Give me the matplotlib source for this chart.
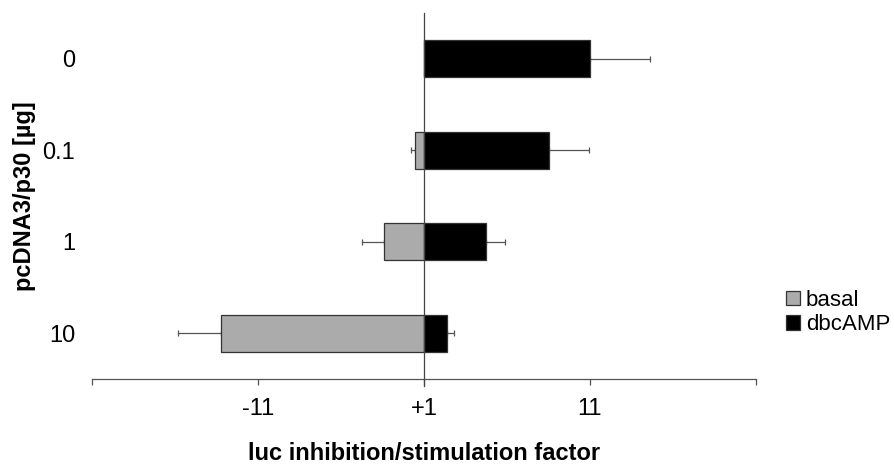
import matplotlib
matplotlib.use("Agg")
import matplotlib.pyplot as plt
import numpy as np

plt.rcParams['font.family'] = ['Liberation Sans', 'DejaVu Sans']

# Doses of pcDNA3/p30 (top to bottom)
doses = ["0", "0.1", "1", "10"]

# Inhibition (negative) / stimulation (positive) factors, plotted on a shifted scale
basal = [0.0, -0.52, -2.41, -12.25]
basal_err = [0.0, 0.28, 1.3, 2.55]
dbcamp = [10.0, 7.53, 3.72, 1.41]
dbcamp_err = [3.6, 2.43, 1.18, 0.4]

xtick_pos = [-20, -10, 0, 10, 20]
xtick_labels = ["", "-11", "+1", "11", ""]

fig = plt.figure(figsize=(8.94, 4.66), dpi=100)
ax = fig.add_axes([0.1029, 0.1867, 0.7427, 0.7854])

y = np.arange(len(doses))
h = 0.4
edge = "#333333"

ax.barh(y, basal, height=h, color="#ababab", edgecolor=edge, linewidth=0.9,
        label="basal", zorder=2)
ax.barh(y, dbcamp, height=h, color="black", edgecolor=edge, linewidth=0.9,
        label="dbcAMP", zorder=2)

# one-sided error bars pointing away from zero
mask_b = np.array(basal_err) > 0
ax.errorbar(np.array(basal)[mask_b], y[mask_b],
            xerr=[np.array(basal_err)[mask_b], np.zeros(mask_b.sum())],
            fmt="none", ecolor="#555555", elinewidth=0.9, capsize=2.5,
            capthick=0.9, zorder=1)
ax.errorbar(dbcamp, y, xerr=[np.zeros(len(dbcamp)), dbcamp_err],
            fmt="none", ecolor="#555555", elinewidth=0.9, capsize=2.5,
            capthick=0.9, zorder=1)

ax.axvline(0, color="#444444", linewidth=0.9, zorder=3, clip_on=False,
           ymin=-0.02)

ax.set_xlim(-20, 20)
ax.set_ylim(3.5, -0.5)

for s in ["top", "right", "left"]:
    ax.spines[s].set_visible(False)
ax.spines["bottom"].set_color("#555555")
ax.spines["bottom"].set_linewidth(0.9)

ax.set_xticks(xtick_pos)
ax.set_xticklabels(xtick_labels, fontsize=17)
ax.tick_params(axis="x", direction="out", length=4.5, width=0.9,
               color="#555555", pad=9)
ax.set_yticks(y)
ax.set_yticklabels(doses, fontsize=17)
ax.tick_params(axis="y", length=0, pad=12)

ax.set_xlabel("luc inhibition/stimulation factor", fontsize=17,
              fontweight="bold", labelpad=16)
ax.set_ylabel("pcDNA3/p30 [µg]", fontsize=17, fontweight="bold", labelpad=5)

ax.legend(loc="upper left", bbox_to_anchor=(0.879, 0.378),
          bbox_transform=fig.transFigure, frameon=False,
          fontsize=16, handlelength=0.65, handleheight=0.65,
          handletextpad=0.25, labelspacing=0.15, borderaxespad=0,
          borderpad=0)

fig.savefig("out.png", dpi=100)
